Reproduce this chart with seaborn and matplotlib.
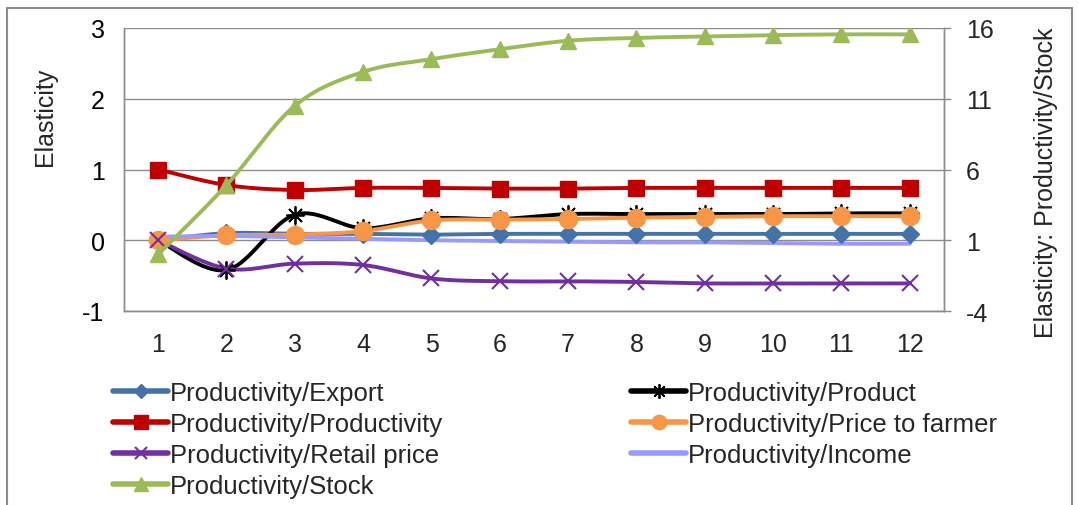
import numpy as np
import pandas as pd
import matplotlib
matplotlib.use("Agg")
import matplotlib.pyplot as plt
from matplotlib.lines import Line2D
import seaborn as sns

periods = [1, 2, 3, 4, 5, 6, 7, 8, 9, 10, 11, 12]
export = [0.0, 0.10, 0.09, 0.09, 0.08, 0.09, 0.09, 0.09, 0.09, 0.09, 0.09, 0.09]
product = [0.0, -0.42, 0.36, 0.17, 0.31, 0.30, 0.37, 0.37, 0.37, 0.37, 0.38, 0.38]
productivity = [1.0, 0.78, 0.71, 0.74, 0.74, 0.73, 0.73, 0.74, 0.74, 0.74, 0.74, 0.74]
price_farmer = [0.0, 0.07, 0.08, 0.13, 0.28, 0.29, 0.30, 0.32, 0.33, 0.34, 0.34, 0.34]
retail_price = [0.0, -0.40, -0.33, -0.35, -0.54, -0.58, -0.58, -0.59, -0.61, -0.61, -0.61, -0.61]
income = [0.05, 0.06, 0.04, 0.02, 0.0, -0.01, -0.02, -0.03, -0.03, -0.04, -0.05, -0.05]
stock = [0.0, 4.9, 10.5, 12.9, 13.8, 14.5, 15.1, 15.3, 15.4, 15.5, 15.55, 15.55]

names = ["Productivity/Export", "Productivity/Product", "Productivity/Productivity",
         "Productivity/Price to farmer", "Productivity/Retail price",
         "Productivity/Income", "Productivity/Stock"]

sns.set_theme(style="white")
plt.rcParams['font.family'] = ['Liberation Sans', 'DejaVu Sans']
plt.rcParams['axes.unicode_minus'] = False

FS = 18

fig = plt.figure(figsize=(10.79, 5.06), dpi=100)
ax = fig.add_axes([124/1079, 1-312/506, (944-124)/1079, (312-29)/506])
ax2 = ax.twinx()


def smooth(xs, ys, n=30):
    xs = np.asarray(xs, float)
    ys = np.asarray(ys, float)
    P = np.column_stack([xs, ys])
    Pp = np.vstack([P[0], P, P[-1]])
    out = []
    for i in range(len(P) - 1):
        p0, p1, p2, p3 = Pp[i], Pp[i+1], Pp[i+2], Pp[i+3]
        c1 = p1 + (p2 - p0) / 6
        c2 = p2 - (p3 - p1) / 6
        t = np.linspace(0, 1, n)[:, None]
        seg = (1-t)**3*p1 + 3*(1-t)**2*t*c1 + 3*(1-t)*t**2*c2 + t**3*p2
        out.append(seg if i == 0 else seg[1:])
    out = np.vstack(out)
    return out[:, 0], out[:, 1]


specs = [
    (export, "#4573A8", "D", 9, 1.0, ax),
    (product, "#000000", (8, 2, 0), 13, 1.3, ax),
    (productivity, "#C00000", "s", 12, 1.0, ax),
    (price_farmer, "#F79646", "o", 13, 1.0, ax),
    (retail_price, "#7030A0", "x", 11, 1.5, ax),
    (income, "#9999FF", None, 0, 1.0, ax),
    (stock, "#9BBB59", "^", 12, 1.0, ax2),
]

handles = []
for (vals, col, mk, ms, mew, a), name in zip(specs, names):
    sx, sy = smooth(periods, vals)
    a.plot(sx, sy, color=col, lw=2.8, solid_capstyle="round", zorder=3)
    if mk is not None:
        df = pd.DataFrame({"x": periods, "y": vals})
        sns.lineplot(data=df, x="x", y="y", ax=a, color=col, marker=mk,
                     markersize=ms, markeredgecolor=col, markeredgewidth=mew,
                     linestyle="none", zorder=4, legend=False)
    handles.append(Line2D([0], [0], color=col, lw=4, marker=mk if mk else None,
                          markersize=ms*0.8 if mk else 0, markeredgecolor=col,
                          markeredgewidth=mew if mk in ("x", (8, 2, 0)) else 1.0))

ax.set_xlim(0.5, 12.5)
ax.set_ylim(-1, 3)
ax.set_yticks([-1, 0, 1, 2, 3])
ax.set_xticks(periods)
ax.set_xticklabels([str(p) for p in periods])
ax2.set_ylim(-4, 16)
ax2.set_yticks([-4, 1, 6, 11, 16])
ax2.set_xlim(0.5, 12.5)

for a in (ax, ax2):
    a.set_xlabel("")
    a.set_ylabel("")
    a.grid(False)
ax.yaxis.grid(True, color="#8C8C8C", lw=1.0)
ax.set_axisbelow(True)

ax.spines["top"].set_visible(False)
ax2.spines["top"].set_visible(False)
for sp in ("left", "bottom", "right"):
    ax.spines[sp].set_color("#8C8C8C")
    ax2.spines[sp].set_color("#8C8C8C")
    ax2.spines[sp].set_linewidth(1.0)
    ax.spines[sp].set_linewidth(1.0)

ax.tick_params(axis="y", length=0, pad=14, labelsize=FS, colors="#000000")
ax.tick_params(axis="x", length=0, pad=15, labelsize=FS)
ax2.tick_params(axis="y", length=5, width=1, color="#8C8C8C", pad=11, labelsize=FS,
                right=True, direction="out")

fig.text(45/1079, 1-117/506, "Elasticity", rotation=90, ha="center", va="center", fontsize=FS)
fig.text(1046/1079, 1-183/506, "Elasticity: Productivity/Stock", rotation=90,
         ha="center", va="center", fontsize=FS)

col1 = [0, 2, 4, 6]
col2 = [1, 3, 5]
common = dict(loc="upper left", frameon=False, fontsize=18.5, handlelength=2.15,
              handletextpad=0.05, labelspacing=0.27, borderaxespad=0, borderpad=0)
leg1 = fig.legend([handles[i] for i in col1], [names[i] for i in col1],
                  bbox_to_anchor=(113/1079, 1-382/506), **common)
leg2 = fig.legend([handles[i] for i in col2], [names[i] for i in col2],
                  bbox_to_anchor=(631/1079, 1-382/506), **common)

# chart border
fig.add_artist(Line2D([7/1079, 7/1079], [0, 1-9/506], transform=fig.transFigure,
                      color="#8C8C8C", lw=1.5))
fig.add_artist(Line2D([7/1079, 1072/1079], [1-9/506, 1-9/506], transform=fig.transFigure,
                      color="#8C8C8C", lw=1.5))
fig.add_artist(Line2D([1072/1079, 1072/1079], [0, 1-9/506], transform=fig.transFigure,
                      color="#8C8C8C", lw=1.5))

fig.savefig("out.png", dpi=100)
